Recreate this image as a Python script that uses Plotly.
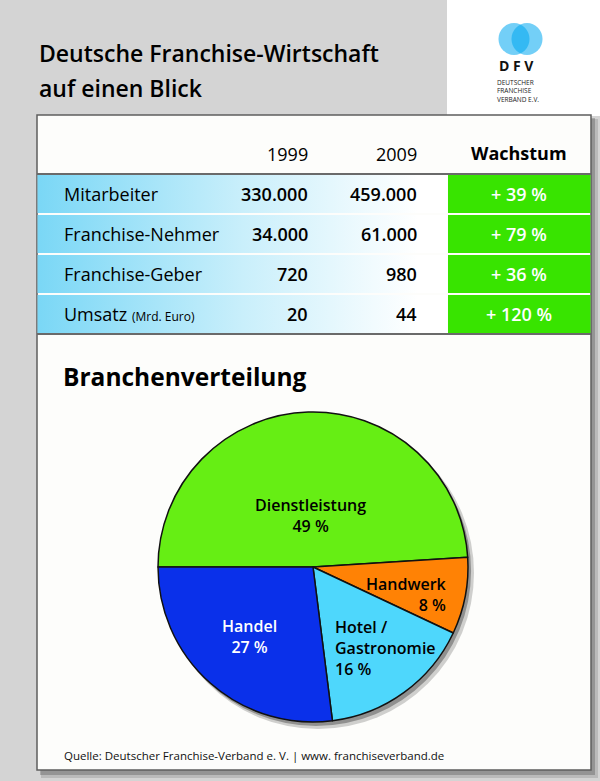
import plotly.graph_objects as go

# table data
row_labels = ["Mitarbeiter", "Franchise-Nehmer", "Franchise-Geber", "Umsatz"]
row_notes = ["", "", "", "(Mrd. Euro)"]
years = ["1999", "2009"]
values_1999 = ["330.000", "34.000", "720", "20"]
values_2009 = ["459.000", "61.000", "980", "44"]
growth = ["+ 39 %", "+ 79 %", "+ 36 %", "+ 120 %"]

# pie data
sectors = ["Dienstleistung", "Handwerk", "Hotel /<br>Gastronomie", "Handel"]
shares = [49, 8, 16, 27]
sector_colors = ["#66ee14", "#ff8205", "#4ed7fc", "#0a30ea"]

W, H = 600, 781
FONT = "Open Sans"
GRAY = "#d4d4d4"

fig = go.Figure()

shapes = []
# white corner behind logo
shapes.append(dict(type="rect", x0=447, x1=W, y0=0, y1=116, fillcolor="white",
                   line_width=0, layer="below"))
# card shadow
shapes.append(dict(type="rect", x0=41, x1=598, y0=119, y1=778,
                   fillcolor="rgba(0,0,0,0.12)", line_width=0, layer="below"))
shapes.append(dict(type="rect", x0=40, x1=595, y0=118, y1=775,
                   fillcolor="rgba(0,0,0,0.2)", line_width=0, layer="below"))
# card
shapes.append(dict(type="rect", x0=37, x1=591, y0=115, y1=770, fillcolor="#fdfdfb",
                   line=dict(color="#5e5e5e", width=1.5), layer="below"))
# logo circles
for cx in (514, 527):
    shapes.append(dict(type="circle", x0=cx - 15.5, x1=cx + 15.5, y0=23, y1=55,
                       fillcolor="rgba(0,168,240,0.55)", line_width=0, layer="below"))

# table rows
table_top, row_h = 174, 40
for i in range(len(row_labels)):
    y0 = table_top + i * row_h + 1
    y1 = table_top + (i + 1) * row_h - 1
    fig.add_trace(go.Scatter(
        x=[37.5, 447, 447, 37.5, 37.5], y=[y0, y0, y1, y1, y0],
        mode="lines", fill="toself", line=dict(width=0),
        fillgradient=dict(type="horizontal",
                          colorscale=[[0, "#7ad7f6"], [0.5, "#c9effb"], [0.93, "#ffffff"], [1, "#ffffff"]]),
        hoverinfo="skip", showlegend=False))
    shapes.append(dict(type="rect", x0=448, x1=590.5, y0=y0, y1=y1, fillcolor="#38e400",
                       line_width=0, layer="below"))

table_bottom = table_top + len(row_labels) * row_h
for yy in (table_top, table_bottom):
    shapes.append(dict(type="line", x0=37, x1=591, y0=yy, y1=yy,
                       line=dict(color="#6a6a6a", width=2), layer="below"))

annotations = []


def txt(x, y, text, size, color="black", weight=400, xanchor="left", yanchor="middle"):
    annotations.append(dict(x=x, y=y, xref="x", yref="y", text=text, showarrow=False,
                            xanchor=xanchor, yanchor=yanchor, align=xanchor,
                            font=dict(family=FONT, size=size, color=color, weight=weight)))


# title
txt(37, 53, "Deutsche Franchise-Wirtschaft", 23, weight=600)
txt(37, 88, "auf einen Blick", 23, weight=600)

# logo text
txt(516, 65, "D F V", 14, color="#111", weight=700, xanchor="center")
txt(495, 75.5, "DEUTSCHER<br>FRANCHISE<br>VERBAND E.V.", 6.5, color="#222", yanchor="top")

# table header
txt(310, 154, years[0], 18, xanchor="right")
txt(419, 154, years[1], 18, xanchor="right")
txt(519, 153, "Wachstum", 18, weight=700, xanchor="center")

for i, lab in enumerate(row_labels):
    yc = table_top + i * row_h + row_h / 2
    label = lab
    if row_notes[i]:
        label += " <span style='font-size:12px'>" + row_notes[i] + "</span>"
    txt(62, yc, label, 18)
    txt(310, yc, values_1999[i], 18, weight=600, xanchor="right")
    txt(419, yc, values_2009[i], 18, weight=600, xanchor="right")
    txt(519, yc, growth[i], 18, color="white", weight=600, xanchor="center")

# section title
txt(61, 376, "Branchenverteilung", 24.5, weight=700)

# pie
cx, cy, r = 313, 567, 155


def dom(px, py, rad):
    return dict(x=[(px - rad) / W, (px + rad) / W], y=[1 - (py + rad) / H, 1 - (py - rad) / H])


fig.add_trace(go.Pie(values=[1], domain=dom(cx + 5, cy + 6, r + 1), marker=dict(colors=["rgba(0,0,0,0.18)"]),
                     textinfo="none", hoverinfo="skip", showlegend=False, sort=False))
fig.add_trace(go.Pie(values=[1], domain=dom(cx + 3, cy + 4, r), marker=dict(colors=["rgba(0,0,0,0.3)"]),
                     textinfo="none", hoverinfo="skip", showlegend=False, sort=False))
fig.add_trace(go.Pie(
    labels=sectors, values=shares, domain=dom(cx, cy, r), sort=False,
    direction="clockwise", rotation=-90,
    marker=dict(colors=sector_colors, line=dict(color="#111111", width=1.5)),
    textinfo="none", showlegend=False))

# slice labels
label_spots = [
    (310, 515, "center", "black"),
    (449, 594, "right", "black"),
    (333, 648, "left", "black"),
    (249, 636, "center", "white"),
]
for (lx, ly, al, col), name, share in zip(label_spots, sectors, shares):
    annotations.append(dict(x=lx, y=ly, xref="x", yref="y", showarrow=False,
                            text=f"{name}<br>{share} %", align=al, xanchor=al, yanchor="middle",
                            font=dict(family=FONT, size=16, color=col, weight=600)))

# source
txt(62, 755, "Quelle: Deutscher Franchise-Verband e. V. | www. franchiseverband.de", 11.5, color="#111")

fig.update_layout(
    width=W, height=H, margin=dict(l=0, r=0, t=0, b=0),
    paper_bgcolor=GRAY, plot_bgcolor="rgba(0,0,0,0)",
    xaxis=dict(range=[0, W], visible=False, fixedrange=True),
    yaxis=dict(range=[H, 0], visible=False, fixedrange=True),
    shapes=shapes, annotations=annotations,
)

fig.write_html("out.html", config={"displayModeBar": False},
               post_script="document.body.style.margin='0';")
